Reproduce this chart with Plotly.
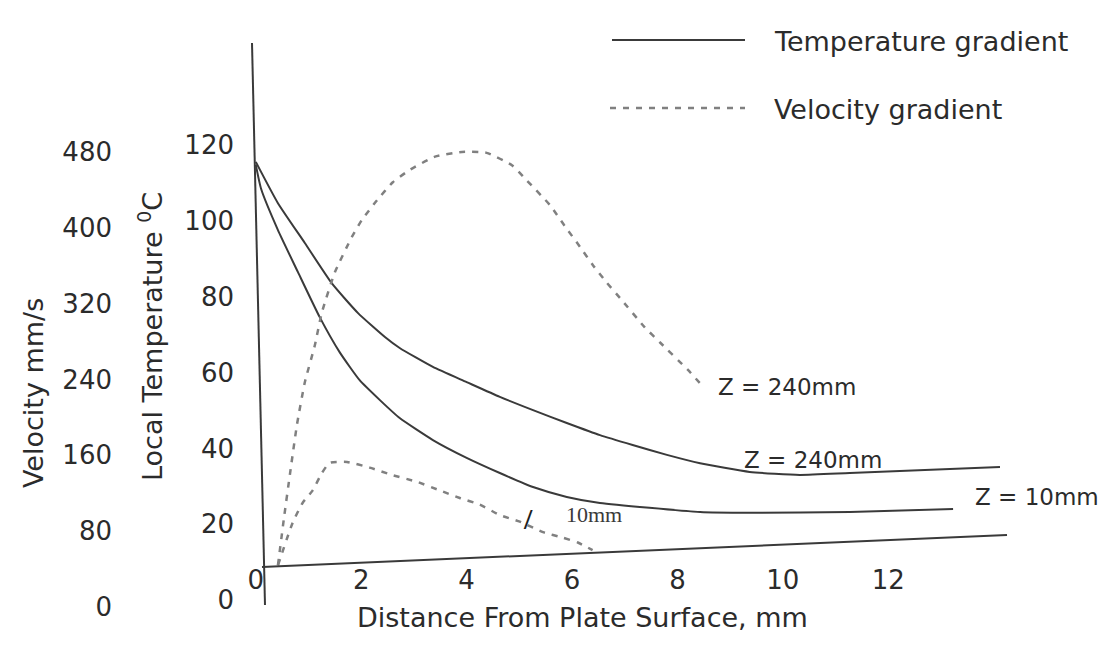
import plotly.graph_objects as go

# ---------------- data ----------------
dist_temp_240 = [0, 0.42, 0.93, 1.44, 1.94, 2.45, 2.73, 3.36, 4.00, 4.63, 5.26, 5.90, 6.53,
                 7.15, 7.80, 8.43, 9.37, 10.32, 11.27, 14.12]
temp_240 = [115.6, 104.7, 94.2, 83.6, 75.7, 69.4, 66.5, 61.5, 57.5, 53.6, 50.1, 46.7, 43.5,
            40.9, 38.3, 36.1, 33.8, 33.0, 33.5, 35.1]

dist_temp_10 = [0, 0.10, 0.42, 0.80, 1.21, 1.59, 1.97, 2.35, 2.73, 3.36, 4.00, 4.63, 5.26,
                5.90, 6.53, 8.43, 9.37, 11.27, 13.23]
temp_10 = [114.8, 108.5, 97.6, 86.5, 74.7, 65.4, 58.0, 52.8, 48.0, 42.2, 37.5, 33.5, 29.8,
           27.2, 25.6, 23.2, 23.0, 23.2, 24.0]

dist_vel_240 = [0.42, 0.53, 0.65, 0.78, 0.93, 1.12, 1.25, 1.50, 1.82, 2.01, 2.30, 2.60, 2.92,
                3.40, 3.91, 4.38, 4.86, 5.14, 5.58, 5.86, 6.15, 6.39, 6.66, 6.91, 7.38, 7.67,
                8.20, 8.46]
vel_240 = [44, 92, 141, 192, 237, 276, 310, 353, 390, 408, 429, 448, 461,
           475, 480, 479, 466, 450, 424, 402, 380, 361, 342, 326, 295, 279,
           250, 234]

dist_vel_10 = [0.42, 0.70, 0.89, 1.08, 1.25, 1.40, 1.73, 2.16, 2.60, 3.06, 3.49, 3.87, 4.25,
               4.63, 5.01, 5.45, 5.83, 6.11, 6.39]
vel_10 = [44, 89, 110, 123, 141, 152, 153, 147, 139, 132, 123, 115, 108,
          97, 90, 79, 73, 68, 60]

x_ticks = [0, 2, 4, 6, 8, 10, 12]
temp_ticks = [0, 20, 40, 60, 80, 100, 120]
vel_ticks = [0, 80, 160, 240, 320, 400, 480]

legend_labels = ["Temperature gradient", "Velocity gradient"]
curve_labels = ["Z = 240mm", "Z = 240mm", "Z = 10mm", "10mm"]

# ---------------- layout helpers (screen pixels -> paper) ----------------
OFF = 8                      # default page margin around the plot div
W, H = 1090, 631
MT, MB = 22, 24
PH = H - MT - MB


def px(x):
    return (x - OFF) / W


def py(y):
    return (H - MB - (y - OFF)) / PH


TEXT = "#2b2b2b"
SOLID = "#3a3a3a"
DASHC = "#808080"
DASH = "6px,7px"
FONT = "DejaVu Sans"

fig = go.Figure()

solid_line = dict(color=SOLID, width=2, shape="spline", smoothing=0.5)
dash_line = dict(color=DASHC, width=2.5, dash=DASH, shape="spline", smoothing=0.5)

fig.add_trace(go.Scatter(x=dist_temp_240, y=temp_240, mode="lines",
                         name="Temperature gradient (Z = 240mm)", line=solid_line, yaxis="y"))
fig.add_trace(go.Scatter(x=dist_temp_10, y=temp_10, mode="lines",
                         name="Temperature gradient (Z = 10mm)", line=solid_line, yaxis="y"))
fig.add_trace(go.Scatter(x=dist_vel_240, y=vel_240, mode="lines",
                         name="Velocity gradient (Z = 240mm)", line=dash_line, yaxis="y2"))
fig.add_trace(go.Scatter(x=dist_vel_10, y=vel_10, mode="lines",
                         name="Velocity gradient (Z = 10mm)", line=dash_line, yaxis="y2"))

tickfont = dict(family=FONT, size=26, color=TEXT)

fig.update_layout(
    width=W, height=H,
    margin=dict(l=0, r=0, t=MT, b=MB),
    paper_bgcolor="white", plot_bgcolor="white",
    showlegend=False,
    xaxis=dict(domain=[px(240), px(1010)], range=[-0.30, 14.31], anchor="free", position=py(562),
               tickvals=x_ticks, ticks="", showline=False, showgrid=False, zeroline=False,
               tickfont=tickfont),
    yaxis=dict(domain=[0, 1], range=[-3.96, 150.4], anchor="free", position=px(234), side="left",
               tickvals=temp_ticks, ticks="", showline=False, showgrid=False, zeroline=False,
               tickfont=tickfont),
    yaxis2=dict(overlaying="y", range=[-8.44, 608.6], anchor="free", position=px(112), side="left",
                tickvals=vel_ticks, ticks="", showline=False, showgrid=False, zeroline=False,
                tickfont=tickfont),
)

# axis lines (slightly skewed as in the scan)
fig.add_shape(type="line", xref="paper", yref="paper", x0=px(252), y0=py(43), x1=px(265), y1=py(605),
              line=dict(color=SOLID, width=2))
fig.add_shape(type="line", xref="paper", yref="paper", x0=px(262), y0=py(567), x1=px(1007), y1=py(535),
              line=dict(color=SOLID, width=2))

# legend (drawn by hand: long sample lines as in the original)
fig.add_shape(type="line", xref="paper", yref="paper", x0=px(612), y0=py(40), x1=px(745), y1=py(40),
              line=dict(color=SOLID, width=2))
fig.add_shape(type="line", xref="paper", yref="paper", x0=px(610), y0=py(108), x1=px(745), y1=py(108),
              line=dict(color=DASHC, width=2.5, dash=DASH))

big = dict(family=FONT, size=27, color=TEXT)
mid = dict(family=FONT, size=23, color=TEXT)


def ann(text, x, y, font, xanchor="center", angle=0):
    fig.add_annotation(text=text, x=px(x), y=py(y), xref="paper", yref="paper", showarrow=False,
                       font=font, xanchor=xanchor, yanchor="middle", textangle=angle)


ann(legend_labels[0], 772, 41, big, xanchor="left")
ann(legend_labels[1], 772, 110, big, xanchor="left")

# axis titles
ann("Velocity mm/s", 33, 393, big, angle=-90)
ann("Local Temperature <sup>0</sup>C", 150, 337, big, angle=-90)
ann("Distance From Plate Surface, mm", 583, 617, big)

# curve labels
ann(curve_labels[0], 787, 387, mid)
ann(curve_labels[1], 813, 460, mid)
ann(curve_labels[2], 1037, 497, mid)
ann("<b>/</b>", 528, 518, dict(family="Liberation Serif", size=30, color="#1e1e1e"))
ann(curve_labels[3], 594, 515, dict(family="Liberation Serif", size=22, color="#3a3a3a"))

fig.write_html("out.html")
